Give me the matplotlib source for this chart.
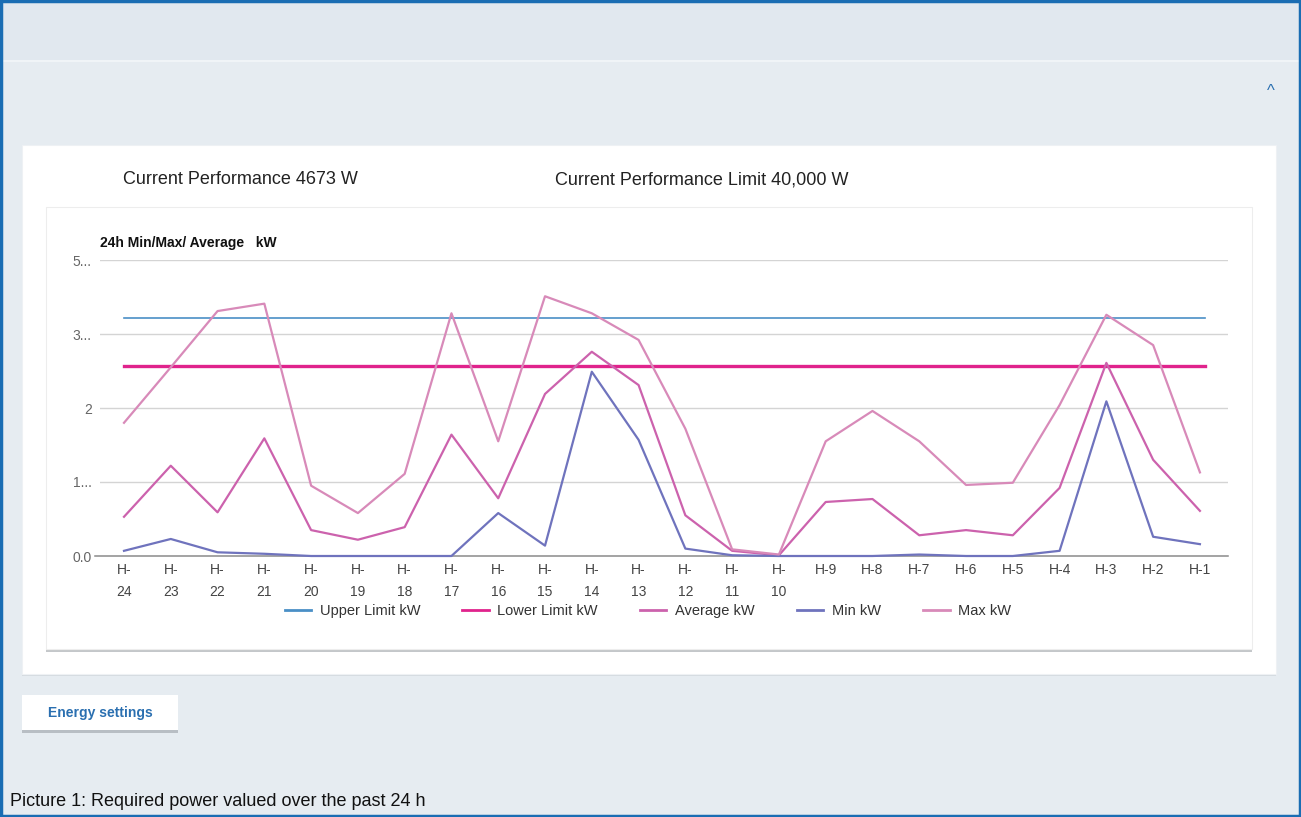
import matplotlib
matplotlib.use("Agg")
import matplotlib.pyplot as plt
from matplotlib.patches import Rectangle
from matplotlib.lines import Line2D

plt.rcParams['font.family'] = ['Liberation Sans', 'DejaVu Sans']

# ---- data (grid units: one grid step per unit) ----
hours = ["H-\n24", "H-\n23", "H-\n22", "H-\n21", "H-\n20", "H-\n19", "H-\n18", "H-\n17",
         "H-\n16", "H-\n15", "H-\n14", "H-\n13", "H-\n12", "H-\n11", "H-\n10",
         "H-9", "H-8", "H-7", "H-6", "H-5", "H-4", "H-3", "H-2", "H-1"]
upper_limit = 3.22
lower_limit = 2.57
max_kw = [1.80, 2.55, 3.31, 3.41, 0.95, 0.58, 1.11, 3.28, 1.55, 3.51, 3.28, 2.92,
          1.72, 0.09, 0.02, 1.55, 1.96, 1.55, 0.96, 0.99, 2.04, 3.26, 2.85, 1.13]
avg_kw = [0.53, 1.22, 0.59, 1.59, 0.35, 0.22, 0.39, 1.64, 0.78, 2.19, 2.76, 2.31,
          0.55, 0.07, 0.01, 0.73, 0.77, 0.28, 0.35, 0.28, 0.92, 2.61, 1.30, 0.61]
min_kw = [0.07, 0.23, 0.05, 0.03, 0.0, 0.0, 0.0, 0.0, 0.58, 0.14, 2.49, 1.57,
          0.10, 0.01, 0.0, 0.0, 0.0, 0.02, 0.0, 0.0, 0.07, 2.09, 0.26, 0.16]
ytick_vals = [0, 1, 2, 3, 4]
ytick_labels = ["0.0", "1...", "2", "3...", "5..."]

W, H = 1301, 817
fig = plt.figure(figsize=(W / 100, H / 100), dpi=100)
fig.patch.set_facecolor("#e6ecf1")


def rect(x, y, w, h, **kw):
    r = Rectangle((x / W, 1 - (y + h) / H), w / W, h / H, transform=fig.transFigure, **kw)
    fig.add_artist(r)
    return r


def txt(x, y, s, **kw):
    fig.text(x / W, 1 - y / H, s, **kw)


# page background bands
rect(0, 0, W, 60, facecolor="#e1e8ef", edgecolor="none", zorder=0)
rect(0, 60, W, 2, facecolor="#f0f4f7", edgecolor="none", zorder=0)
rect(0, 62, W, 755, facecolor="#e6ecf1", edgecolor="none", zorder=0)
# blue frame
rect(1, 1, W - 2, H - 2, facecolor="none", edgecolor="#1a6db3", linewidth=2.5, zorder=10)

# caret
txt(1271, 92, "^", fontsize=12, color="#2a6fb0", ha="center", va="center")

# outer white card
rect(22, 147, 1254, 529, facecolor="#d5dbe0", edgecolor="none", zorder=1)
rect(22, 145, 1254, 529, facecolor="white", edgecolor="#eef1f4", linewidth=0.8, zorder=1)

# inner chart card with shadow
rect(46, 209, 1206, 443, facecolor="#c4c7ca", edgecolor="none", zorder=2)
rect(46, 207, 1206, 442, facecolor="white", edgecolor="#ededed", linewidth=0.8, zorder=2)

txt(123, 180, "Current Performance 4673 W", fontsize=13, color="#222222", va="center")
txt(555, 180, "Current Performance Limit 40,000 W", fontsize=13, color="#222222", va="center")
txt(100, 243, "24h Min/Max/ Average   kW", fontsize=10, color="#111111", va="center",
    fontweight="bold")

# button
rect(22, 698, 156, 35, facecolor="#b8bec4", edgecolor="none", zorder=2)
rect(22, 695, 156, 35, facecolor="white", edgecolor="none", zorder=2)
txt(100, 713, "Energy settings", fontsize=10, color="#2a6fb0", ha="center", va="center",
    fontweight="bold")

txt(10, 802, "Picture 1: Required power valued over the past 24 h", fontsize=13,
    color="#111111", va="center")

# ---- chart axes ----
ax_l, ax_r, ax_t, ax_b = 100, 1228, 260, 556
ax = fig.add_axes([ax_l / W, 1 - ax_b / H, (ax_r - ax_l) / W, (ax_b - ax_t) / H], zorder=5)
ax.patch.set_visible(False)
x = list(range(len(hours)))
n = len(hours)
ax.set_xlim(-0.513, n - 1 + 0.60)
ax.set_ylim(0, 4)
for s in ax.spines.values():
    s.set_visible(False)

for v in ytick_vals[1:]:
    ax.axhline(v, color="#d4d4d4", linewidth=1, zorder=1)
ax.axhline(0, xmin=-0.004, color="#8a8a8a", linewidth=1.1, zorder=1, clip_on=False)

ax.set_yticks(ytick_vals)
ax.set_yticklabels(ytick_labels, fontsize=10, color="#666666")
ax.set_xticks(x)
ax.set_xticklabels(hours, fontsize=10, color="#444444", linespacing=1.75, va="top")
ax.tick_params(axis="both", length=0)
ax.tick_params(axis="x", pad=5)
ax.tick_params(axis="y", pad=6)

c_upper = "#4a8fc6"
c_lower = "#e0238c"
c_avg = "#cc62ad"
c_min = "#6f73bd"
c_max = "#d88ab9"

ax.plot([x[0], x[-1] + 0.1], [upper_limit, upper_limit], color=c_upper, lw=1.2, zorder=3,
        label="Upper Limit kW")
ax.plot([x[0], x[-1] + 0.1], [lower_limit, lower_limit], color=c_lower, lw=2.4, zorder=3,
        label="Lower Limit kW")
ax.plot(x, avg_kw, color=c_avg, lw=1.6, zorder=4, clip_on=False, label="Average kW")
ax.plot(x, min_kw, color=c_min, lw=1.6, zorder=4, clip_on=False, label="Min kW")
ax.plot(x, max_kw, color=c_max, lw=1.6, zorder=4, clip_on=False, label="Max kW")

handles = [Line2D([], [], color=c, lw=lw) for c, lw in
           [(c_upper, 2), (c_lower, 2), (c_avg, 2), (c_min, 2), (c_max, 2)]]
labels = ["Upper Limit kW", "Lower Limit kW", "Average kW", "Min kW", "Max kW"]
leg = fig.legend(handles, labels, loc="center", bbox_to_anchor=(648 / W, 1 - 611 / H),
                 ncol=5, frameon=False, fontsize=10.5, handlelength=1.8, columnspacing=2.9,
                 handletextpad=0.6)
for t in leg.get_texts():
    t.set_color("#333333")
leg.set_zorder(6)

fig.savefig("out.png", dpi=100, facecolor=fig.get_facecolor())
